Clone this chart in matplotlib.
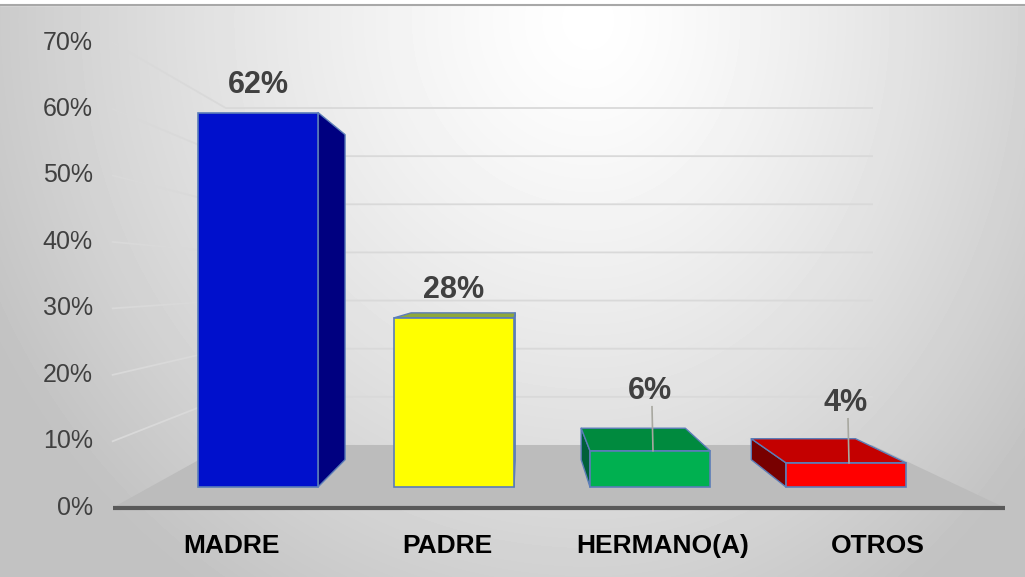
import numpy as np
import matplotlib.pyplot as plt
from matplotlib.patches import Polygon

# datos
categorias = ['MADRE', 'PADRE', 'HERMANO(A)', 'OTROS']
porcentajes = [62, 28, 6, 4]
ticks_y = [0, 10, 20, 30, 40, 50, 60, 70]

# colores de cada barra: frente, tapa, lado
frente = ['#0010cc', '#ffff00', '#00b050', '#ff0000']
tapa = ['#0a0a9a', '#8fa83a', '#008a3e', '#c40000']
lado = ['#000080', '#8a9a30', '#00603a', '#780000']

# geometria de la vista 3D (pixeles)
VX, VY = 523, 280          # punto de fuga
BASE_Y = 487               # 0% en el plano frontal de las barras
PX_PCT = 6.04              # pixeles por punto porcentual
S_PISO_FRENTE, S_PISO_FONDO = 1.10, 0.797
S_BARRA_FONDO = 0.868
X_PISO = (150, 961)
CENTRO0, PASO, ANCHO = 258, 196, 120


def proj(x, v, s):
    y0 = BASE_Y - PX_PCT * v
    return VX + (x - VX) * s, VY + (y0 - VY) * s


fig = plt.figure(figsize=(10.25, 5.77), dpi=100)
ax = fig.add_axes([0, 0, 1, 1])
ax.set_xlim(0, 1025)
ax.set_ylim(577, 0)
ax.axis('off')

# fondo con degradado radial (mas oscuro hacia los bordes)
yy, xx = np.mgrid[0:577, 0:1025]
dx = np.where(xx < 590, (xx - 590) / 560, (xx - 590) / 470)
t = np.hypot(dx, (yy - 20) / 580)
fondo = np.clip(1 - 0.19 * t ** 1.3, 0.76, 1)
ax.imshow(fondo, cmap='gray', vmin=0, vmax=1, extent=(0, 1025, 577, 0),
          aspect='auto', zorder=0)
ax.fill_between([0, 1025], 0, 4.5, color='white', zorder=1)
ax.plot([0, 1025], [4.5, 4.5], color='#a8a8a8', lw=1.5, zorder=1)

# lineas de cuadricula (pared lateral y pared del fondo)
for v in ticks_y[1:]:
    xa, ya = proj(X_PISO[0], v, S_PISO_FRENTE)
    xb, yb = proj(X_PISO[0], v, S_PISO_FONDO)
    xc, yc = proj(X_PISO[1], v, S_PISO_FONDO)
    ax.plot([xa, xb, xc], [ya, yb, yc], color='#d9d9d9', lw=1.3, zorder=2)

# piso
piso = [proj(X_PISO[0], 0, S_PISO_FRENTE), proj(X_PISO[1], 0, S_PISO_FRENTE),
        proj(X_PISO[1], 0, S_PISO_FONDO), proj(X_PISO[0], 0, S_PISO_FONDO)]
ax.add_patch(Polygon(piso, closed=True, facecolor='#bcbcbc', edgecolor='none', zorder=3))
xa, ya = piso[0]
xb, yb = piso[1]
ax.plot([xa, xb], [ya, yb], color='#595959', lw=3, zorder=4, solid_capstyle='butt')

# etiquetas del eje y
for v in ticks_y:
    x, y = proj(X_PISO[0], v, S_PISO_FRENTE)
    ax.text(x - 20, y, f'{v}%', ha='right', va='center', fontsize=18,
            color='#404040', family=['Liberation Sans', 'DejaVu Sans'], zorder=5)

fuente_negrita = ['Liberation Sans', 'DejaVu Sans']

# barras
for i, (cat, val) in enumerate(zip(categorias, porcentajes)):
    c = CENTRO0 + PASO * i
    x0, x1 = c - ANCHO / 2, c + ANCHO / 2
    f = [proj(x0, 0, 1), proj(x1, 0, 1), proj(x1, val, 1), proj(x0, val, 1)]
    b = [proj(x0, 0, S_BARRA_FONDO), proj(x1, 0, S_BARRA_FONDO),
         proj(x1, val, S_BARRA_FONDO), proj(x0, val, S_BARRA_FONDO)]
    caras = []
    if x1 < VX:
        caras.append(([f[1], b[1], b[2], f[2]], lado[i]))
    if x0 > VX:
        caras.append(([f[0], b[0], b[3], f[3]], lado[i]))
    if f[3][1] > VY:
        caras.append(([f[3], f[2], b[2], b[3]], tapa[i]))
    for pts, col in caras:
        ax.add_patch(Polygon(pts, closed=True, facecolor=col, edgecolor='#5b7db8',
                             lw=1, joinstyle='round', zorder=6))
    ax.add_patch(Polygon(f, closed=True, facecolor=frente[i], edgecolor='#5b7db8',
                         lw=1.2, zorder=7))

    # etiqueta de datos
    xt, yt = proj(c, val, 1)
    if val < 10:
        ax.plot([xt + 2, xt + 3], [yt - 44, yt], color='#a8a8a0', lw=1.2, zorder=8)
        yl = yt - 60
    else:
        yl = yt - 28
    ax.text(xt, yl, f'{val}%', ha='center', va='center', fontsize=22,
            fontweight='bold', color='#404040', family=fuente_negrita, zorder=9)

    # etiqueta de categoria
    xc, _ = proj(c, 0, S_PISO_FRENTE)
    ax.text(xc, 546, cat, ha='center', va='center', fontsize=19,
            fontweight='bold', color='black', family=fuente_negrita, zorder=9)

fig.savefig('out.png', dpi=100)
